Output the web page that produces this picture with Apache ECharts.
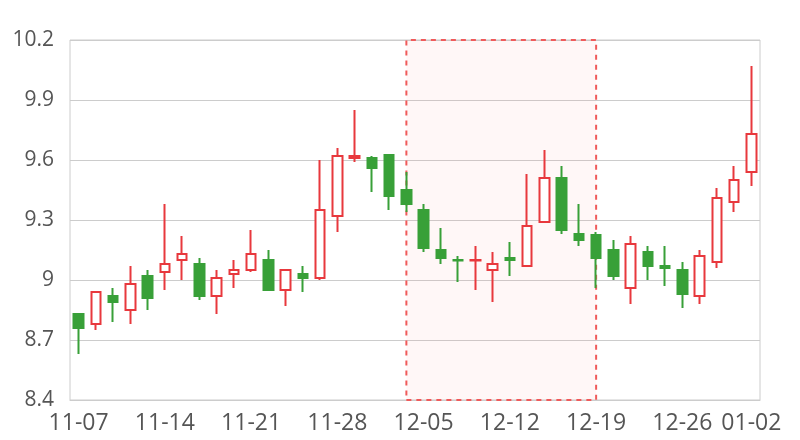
<!DOCTYPE html>
<html>
<head>
<meta charset="utf-8">
<script src="https://cdn.jsdelivr.net/npm/echarts@6/dist/echarts.min.js"></script>
<style>html,body{margin:0;padding:0;background:#fff}#c{width:800px;height:440px}</style>
</head>
<body>
<div id="c"></div>
<script>
const dates = ['11-07','11-08','11-09','11-10','11-11','11-14','11-15','11-16','11-17','11-18',
  '11-21','11-22','11-23','11-24','11-25','11-28','11-29','11-30','12-01','12-02',
  '12-05','12-06','12-07','12-08','12-09','12-12','12-13','12-14','12-15','12-16',
  '12-19','12-20','12-21','12-22','12-23','12-26','12-27','12-28','12-29','01-02'];
// [open, close, low, high]
const opens  = [8.83,8.78,8.92,8.85,9.02,9.04,9.10,9.08,8.92,9.03,
  9.05,9.10,8.95,9.03,9.01,9.32,9.61,9.61,9.625,9.45,
  9.35,9.15,9.10,9.097,9.05,9.11,9.07,9.29,9.51,9.23,
  9.225,9.15,8.96,9.14,9.07,9.05,8.92,9.09,9.39,9.54];
const closes = [8.76,8.94,8.89,8.98,8.91,9.08,9.13,8.92,9.01,9.05,
  9.13,8.95,9.05,9.01,9.35,9.62,9.62,9.56,9.42,9.38,
  9.16,9.11,9.097,9.10,9.08,9.10,9.27,9.51,9.25,9.20,
  9.11,9.02,9.18,9.07,9.06,8.93,9.12,9.41,9.50,9.73];
const lows   = [8.63,8.75,8.79,8.78,8.85,8.95,9.00,8.90,8.83,8.96,
  9.04,8.95,8.87,8.94,9.00,9.24,9.59,9.44,9.35,9.34,
  9.14,9.08,8.99,8.95,8.89,9.02,9.07,9.29,9.23,9.17,
  8.96,9.00,8.88,9.00,8.97,8.86,8.88,9.06,9.34,9.47];
const highs  = [8.83,8.94,8.96,9.07,9.05,9.38,9.22,9.11,9.05,9.10,
  9.25,9.15,9.05,9.07,9.60,9.66,9.85,9.62,9.625,9.54,
  9.38,9.26,9.12,9.17,9.14,9.19,9.53,9.65,9.57,9.38,
  9.24,9.20,9.22,9.17,9.17,9.09,9.15,9.46,9.57,10.07];
const yTicks = [8.4, 8.7, 9, 9.3, 9.6, 9.9, 10.2];
const areaStart = '12-02', areaEnd = '12-19';

const data = dates.map((d, i) => [opens[i], closes[i], lows[i], highs[i]]);
const RED = '#e8383d', GREEN = '#38a038';
const chart = echarts.init(document.getElementById('c'));
chart.setOption({
  animation: false,
  grid: { left: 70, right: 40, top: 40, bottom: 40, show: true, borderColor: '#cccccc', borderWidth: 1 },
  xAxis: {
    type: 'category', data: dates, boundaryGap: true,
    axisLine: { lineStyle: { color: '#cccccc' } },
    axisTick: { show: false },
    axisLabel: {
      color: '#555', fontSize: 23, fontFamily: 'Open Sans', margin: 12,
      interval: (i) => i % 5 === 0 || i === dates.length - 1
    },
    splitLine: { show: false }
  },
  yAxis: {
    type: 'value', min: yTicks[0], max: yTicks[yTicks.length - 1], interval: 0.3,
    axisLine: { show: false }, axisTick: { show: false },
    axisLabel: { color: '#555', fontSize: 21, fontFamily: 'Open Sans', margin: 16,
      formatter: (v) => String(Math.round(v * 10) / 10) },
    splitLine: { lineStyle: { color: '#cccccc' } }
  },
  series: [{
    type: 'candlestick',
    data: data,
    barWidth: 10,
    itemStyle: { color: '#ffffff', color0: GREEN, borderColor: RED, borderColor0: GREEN, borderWidth: 2 },
    markArea: {
      silent: true,
      itemStyle: { color: 'rgba(255,120,120,0.06)', borderColor: '#f05a5a', borderWidth: 2, borderType: [5, 5] },
      data: [[{ xAxis: areaStart }, { xAxis: areaEnd }]]
    }
  }]
});
</script>
</body>
</html>
